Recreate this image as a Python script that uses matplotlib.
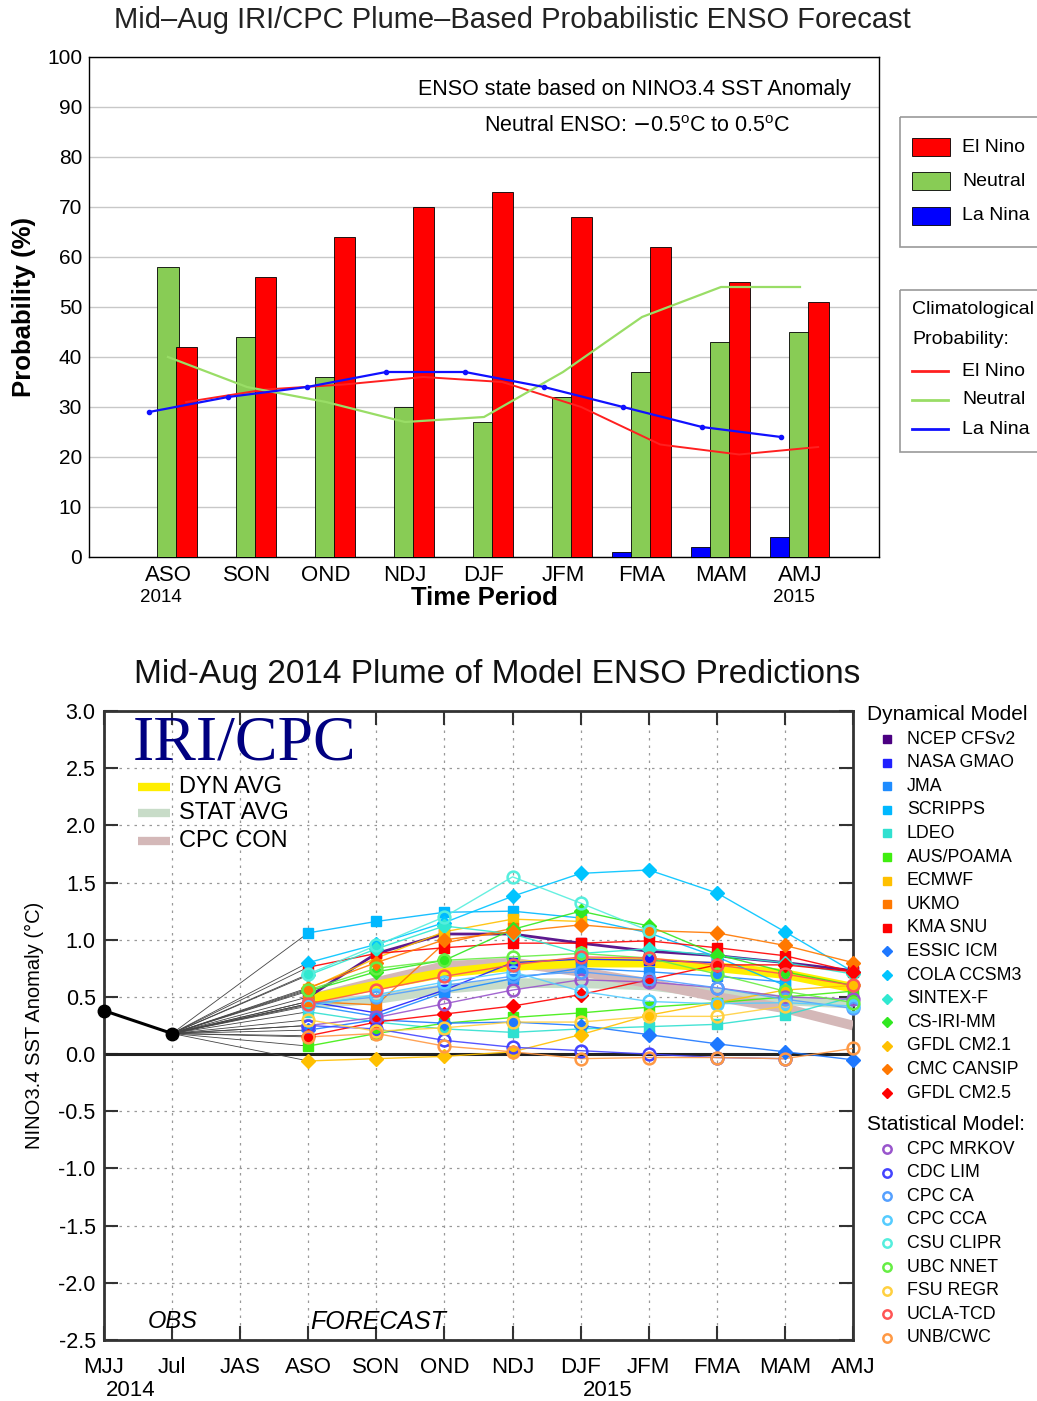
import numpy as np
import matplotlib
matplotlib.use("Agg")
import matplotlib.pyplot as plt
from matplotlib.patches import Rectangle

plt.rcParams['font.family'] = ['Liberation Sans', 'DejaVu Sans']

# ---------------- top panel data ----------------
seasons = ['ASO', 'SON', 'OND', 'NDJ', 'DJF', 'JFM', 'FMA', 'MAM', 'AMJ']
la_nina = [0, 0, 0, 0, 0, 0, 1, 2, 4]
neutral = [58, 44, 36, 30, 27, 32, 37, 43, 45]
el_nino = [42, 56, 64, 70, 73, 68, 62, 55, 51]
clim_el_nino = [31, 33.5, 34.5, 36, 35, 30, 22.5, 20.5, 22]
clim_neutral = [40, 34, 31, 27, 28, 37, 48, 54, 54]
clim_la_nina = [29, 32, 34, 37, 37, 34, 30, 26, 24]

# ---------------- bottom panel data ----------------
plume_ticks = ['MJJ', 'Jul', 'JAS', 'ASO', 'SON', 'OND', 'NDJ', 'DJF', 'JFM', 'FMA', 'MAM', 'AMJ']
obs = [0.38, 0.18]
nan = np.nan

dyn_names = ['NCEP CFSv2', 'NASA GMAO', 'JMA', 'SCRIPPS', 'LDEO', 'AUS/POAMA', 'ECMWF', 'UKMO',
             'KMA SNU', 'ESSIC ICM', 'COLA CCSM3', 'SINTEX-F', 'CS-IRI-MM', 'GFDL CM2.1',
             'CMC CANSIP', 'GFDL CM2.5']
dyn_colors = ['#4b0082', '#2020ff', '#1e8cff', '#00b8ff', '#30e0d0', '#40ee10', '#ffc000', '#ff7800',
              '#ff0000', '#1e78ff', '#00c4ff', '#30e8d0', '#30e820', '#ffc000', '#ff7800', '#ff0000']
dyn_vals = [
    [0.50, 0.88, 1.05, 1.05, 0.97, 0.90, 0.86, 0.80, 0.73],   # NCEP CFSv2
    [0.46, 0.36, 0.56, 0.80, 0.83, 0.82, 0.80, nan, nan],      # NASA GMAO
    [0.43, 0.33, 0.54, 0.66, 0.75, 0.72, 0.68, 0.63, nan],     # JMA
    [1.06, 1.16, 1.24, 1.25, 1.19, 1.06, 0.85, 0.60, nan],     # SCRIPPS
    [0.37, 0.28, 0.22, 0.19, 0.22, 0.24, 0.26, 0.34, 0.50],    # LDEO
    [0.07, 0.18, 0.27, 0.32, 0.36, 0.41, 0.45, 0.50, 0.55],    # AUS/POAMA
    [0.57, 0.84, 1.07, 1.18, 1.16, nan, nan, nan, nan],        # ECMWF
    [0.46, 0.43, 0.97, 1.10, nan, nan, nan, nan, nan],         # UKMO
    [0.76, 0.88, 0.93, 0.97, 0.97, 0.99, 0.93, 0.86, 0.72],    # KMA SNU
    [0.21, 0.30, 0.27, 0.28, 0.25, 0.17, 0.09, 0.02, -0.05],   # ESSIC ICM
    [0.80, 0.96, 1.15, 1.38, 1.58, 1.61, 1.41, 1.07, 0.72],    # COLA CCSM3
    [0.69, 0.92, 1.12, 1.05, 0.88, 0.92, 0.86, 0.80, 0.70],    # SINTEX-F
    [0.55, 0.72, 0.82, 1.09, 1.25, 1.12, 0.87, 0.72, 0.60],    # CS-IRI-MM
    [-0.06, -0.04, -0.02, 0.02, 0.17, 0.34, 0.45, 0.56, 0.60], # GFDL CM2.1
    [0.58, 0.80, 1.00, 1.07, 1.13, 1.08, 1.06, 0.95, 0.80],    # CMC CANSIP
    [0.16, 0.28, 0.35, 0.42, 0.52, 0.65, 0.78, 0.78, 0.72],    # GFDL CM2.5
]
dyn_markers = ['s'] * 9 + ['D'] * 7

stat_names = ['CPC MRKOV', 'CDC LIM', 'CPC CA', 'CPC CCA', 'CSU CLIPR', 'UBC NNET', 'FSU REGR',
              'UCLA-TCD', 'UNB/CWC']
stat_colors = ['#9955cc', '#4444ff', '#55a0ff', '#55ccff', '#55eedd', '#66ee44', '#ffd040',
               '#ff5555', '#ff9944']
stat_vals = [
    [0.25, 0.32, 0.44, 0.56, 0.65, 0.63, 0.58, 0.50, 0.48],    # CPC MRKOV
    [0.25, 0.22, 0.12, 0.06, 0.03, 0.00, -0.03, -0.04, nan],   # CDC LIM
    [0.44, 0.50, 0.60, 0.68, 0.72, 0.66, 0.58, 0.48, 0.40],    # CPC CA
    [0.42, 0.52, 0.63, 0.72, 0.55, 0.46, 0.44, 0.45, 0.42],    # CPC CCA
    [0.70, 0.95, 1.20, 1.55, 1.32, 1.08, nan, nan, nan],       # CSU CLIPR
    [0.56, 0.75, 0.82, 0.85, 0.88, 0.84, 0.70, 0.55, 0.45],    # UBC NNET
    [0.30, 0.20, 0.23, 0.28, 0.28, 0.33, 0.33, 0.42, nan],     # FSU REGR
    [0.44, 0.56, 0.68, 0.78, 0.85, 0.84, 0.78, 0.70, 0.60],    # UCLA-TCD
    [0.15, 0.18, 0.07, 0.02, -0.04, -0.03, -0.03, -0.04, 0.05],# UNB/CWC
]

dyn_avg = [0.48, 0.60, 0.71, 0.77, 0.80, 0.80, 0.76, 0.70, 0.58]
stat_avg = [0.44, 0.48, 0.57, 0.62, 0.62, 0.60, 0.53, 0.47, 0.44]
cpc_con = [0.48, 0.63, 0.77, 0.80, 0.72, 0.62, 0.50, 0.40, 0.25]

W, H = 1037, 1401
fig = plt.figure(figsize=(W / 100, H / 100), dpi=100)

def fbox(x0, y0, x1, y1):
    return [x0 / W, 1 - y1 / H, (x1 - x0) / W, (y1 - y0) / H]

narrow = ['Liberation Sans Narrow', 'Liberation Sans', 'DejaVu Sans']

# ================= top panel =================
ax1 = fig.add_axes(fbox(89, 57, 879, 557))
x = np.arange(len(seasons))
bw = 0.27
ax1.bar(x - 0.24, la_nina, bw, color='#0000ff', edgecolor='black', linewidth=0.6, zorder=3)
ax1.bar(x, neutral, bw, color='#88cc55', edgecolor='black', linewidth=0.6, zorder=3)
ax1.bar(x + 0.23, el_nino, bw, color='#ff0000', edgecolor='black', linewidth=0.6, zorder=3)
ax1.plot(x + 0.23, clim_el_nino, color='#ff2020', lw=1.4, zorder=4)
ax1.plot(x, clim_neutral, color='#99dd66', lw=1.6, zorder=4)
ax1.plot(x - 0.24, clim_la_nina, color='#1010ff', lw=1.6, marker='o', ms=3, zorder=5)
ax1.set_xlim(-1, 9)
ax1.set_ylim(0, 100)
ax1.set_yticks(range(0, 101, 10))
ax1.set_xticks(x)
ax1.set_xticklabels(seasons, fontsize=16)
ax1.tick_params(axis='x', length=0, pad=6)
ax1.tick_params(axis='y', length=0, labelsize=15, pad=5)
ax1.yaxis.grid(True, color='#c8c8c8', lw=1)
ax1.set_axisbelow(True)
for s in ax1.spines.values():
    s.set_linewidth(1.0)
ax1.set_ylabel('Probability (%)', fontsize=18.5, fontweight='bold', labelpad=8)
ax1.set_xlabel('Time Period', fontsize=18.5, fontweight='bold', labelpad=0)
ax1.text(0.965, 0.935, 'ENSO state based on NINO3.4 SST Anomaly', transform=ax1.transAxes,
         ha='right', va='center', fontsize=15.5)
ax1.text(0.888, 0.86, r'Neutral ENSO: $-$0.5$^\mathregular{o}$C to 0.5$^\mathregular{o}$C',
         transform=ax1.transAxes, ha='right', va='center', fontsize=15.5)
fig.text(512 / W, 1 - 20 / H, 'Mid\u2013Aug IRI/CPC Plume\u2013Based Probabilistic ENSO Forecast',
         ha='center', va='center', fontsize=21, color='#222222')

# ================= bottom panel =================
ax2 = fig.add_axes(fbox(104, 711, 853, 1340))
xs = np.arange(len(plume_ticks))
xf = xs[3:]
ax2.axhline(0, color='#222222', lw=2.2, zorder=2)
for i in range(len(dyn_vals)):
    ax2.plot([1, 3], [obs[1], dyn_vals[i][0]], color='#444444', lw=0.6, zorder=2)
for i in range(len(stat_vals)):
    ax2.plot([1, 3], [obs[1], stat_vals[i][0]], color='#444444', lw=0.6, zorder=2)
ax2.plot(xf, stat_avg, color='#c8dcc8', lw=7, solid_capstyle='butt', zorder=3)
ax2.plot(xf, cpc_con, color='#d4b8b8', lw=7, solid_capstyle='butt', zorder=3)
ax2.plot(xf, dyn_avg, color='#ffee00', lw=7, solid_capstyle='butt', zorder=3)
for v, c, m in zip(dyn_vals, dyn_colors, dyn_markers):
    lw = 2 if c == '#4b0082' else 1
    ax2.plot(xf, v, color=c, lw=lw, alpha=0.9, zorder=4)
    ax2.plot(xf, v, ls='none', marker=m, ms=7.5 if m == 's' else 7, color=c, zorder=5, clip_on=False)
for v, c in zip(stat_vals, stat_colors):
    ax2.plot(xf, v, color=c, lw=1, alpha=0.9, zorder=4)
    ax2.plot(xf, v, ls='none', marker='o', ms=8.5, mfc='none', mec=c, mew=1.8, zorder=5, clip_on=False)
ax2.plot([0, 1], obs, color='black', lw=2.2, marker='o', ms=9, zorder=6, clip_on=False)

ax2.set_xlim(0, 11)
ax2.set_ylim(-2.5, 3.0)
yt = np.arange(-2.5, 3.01, 0.5)
ax2.set_yticks(yt)
ax2.set_yticklabels(['%.1f' % t for t in yt], fontsize=15.5)
ax2.set_xticks(xs)
ax2.set_xticklabels(plume_ticks, fontsize=16)
ax2.tick_params(direction='in', length=10, width=1.5, top=True, right=True, colors='#333333',
                labelcolor='black')
ax2.tick_params(axis='y', pad=6)
ax2.tick_params(axis='x', pad=12)
ax2.grid(True, ls=(0, (2, 4)), color='#999999', lw=0.9)
for s in ax2.spines.values():
    s.set_linewidth(2)
    s.set_color('#333333')
ax2.set_ylabel('NINO3.4 SST Anomaly (\u00b0C)', fontsize=14.5, labelpad=10)
fig.text(497 / W, 1 - 675 / H, 'Mid-Aug 2014 Plume of Model ENSO Predictions',
         ha='center', va='center', fontsize=24, color='#111111')

# ================= overlay in pixel coords for legends/annotations =================
ov = fig.add_axes([0, 0, 1, 1], zorder=10)
ov.set_xlim(0, W)
ov.set_ylim(H, 0)
ov.axis('off')
ov.patch.set_alpha(0)

# top legends
ov.add_patch(Rectangle((900, 117), 150, 130, fill=False, ec='#999999', lw=1.2, clip_on=False))
for lab, c, yy in zip(['El Nino', 'Neutral', 'La Nina'], ['#ff0000', '#88cc55', '#0000ff'], [147, 181, 216]):
    ov.add_patch(Rectangle((912, yy - 9), 38, 18, fc=c, ec='black', lw=0.6))
    ov.text(962, yy, lab, fontsize=14, va='center')
ov.add_patch(Rectangle((900, 290), 150, 162, fill=False, ec='#999999', lw=1.2, clip_on=False))
ov.text(912, 310, 'Climatological', fontsize=14, va='center')
ov.text(912, 340, 'Probability:', fontsize=14, va='center')
for lab, c, yy in zip(['El Nino', 'Neutral', 'La Nina'], ['#ff2020', '#99dd66', '#1010ff'], [371, 400, 429]):
    ov.plot([912, 948], [yy, yy], color=c, lw=2)
    ov.text(962, yy, lab, fontsize=14, va='center')
ov.text(161, 598, '2014', fontsize=13.5, ha='center', va='center')
ov.text(794, 598, '2015', fontsize=13.5, ha='center', va='center')

# bottom in-plot legend
ov.text(245, 745, 'IRI/CPC', family='Liberation Serif', fontsize=46, color='#000080',
        ha='center', va='center')
for lab, c, yy in zip(['DYN AVG', 'STAT AVG', 'CPC CON'], ['#ffee00', '#c8dcc8', '#d4b8b8'], [787, 813, 841]):
    ov.plot([138, 170], [yy, yy], color=c, lw=6, solid_capstyle='butt')
    ov.text(179, yy, lab, fontsize=17, va='center')
ov.text(173, 1322, 'OBS', fontsize=17, style='italic', ha='center', va='center')
ov.text(378, 1322, 'FORECAST', fontsize=18, style='italic', ha='center', va='center')
ov.text(131, 1390, '2014', fontsize=16, ha='center', va='center')
ov.text(608, 1390, '2015', fontsize=16, ha='center', va='center')

# bottom right legend
ov.text(867, 714, 'Dynamical Model', fontsize=15, va='center')
for k, (lab, c, m) in enumerate(zip(dyn_names, dyn_colors, dyn_markers)):
    yy = 739 + k * 23.6
    ov.plot(887, yy, marker=m, ms=5.5, color=c, ls='none')
    ov.text(907, yy, lab, fontsize=12.8, va='center')
ov.text(867, 1124, 'Statistical Model:', fontsize=15, va='center')
for k, (lab, c) in enumerate(zip(stat_names, stat_colors)):
    yy = 1149 + k * 23.6
    ov.plot(887, yy, marker='o', ms=6, mfc='none', mec=c, mew=1.8, ls='none')
    ov.text(907, yy, lab, fontsize=12.8, va='center')

fig.savefig('out.png', dpi=100)
